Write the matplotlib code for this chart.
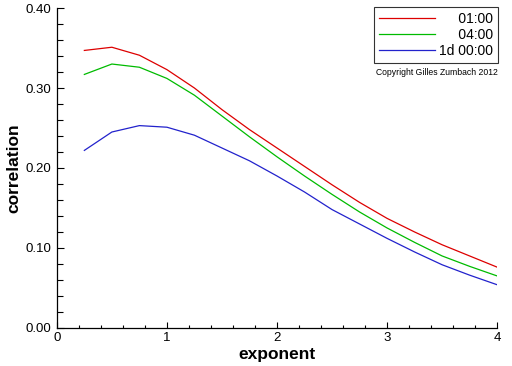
import matplotlib.pyplot as plt
from matplotlib.ticker import MultipleLocator, FormatStrFormatter

plt.rcParams['font.family'] = ['Liberation Sans', 'DejaVu Sans']

# --- data ---
exponent = [0.25, 0.5, 0.75, 1.0, 1.25, 1.5, 1.75, 2.0,
            2.25, 2.5, 2.75, 3.0, 3.25, 3.5, 3.75, 4.0]
corr_0100 = [0.347, 0.351, 0.341, 0.323, 0.300, 0.273, 0.248, 0.225,
             0.202, 0.179, 0.157, 0.137, 0.120, 0.104, 0.090, 0.076]
corr_0400 = [0.317, 0.330, 0.326, 0.312, 0.291, 0.265, 0.239, 0.214,
             0.190, 0.167, 0.145, 0.125, 0.107, 0.090, 0.077, 0.065]
corr_1d = [0.222, 0.245, 0.253, 0.251, 0.241, 0.225, 0.209, 0.190,
           0.170, 0.148, 0.130, 0.112, 0.095, 0.079, 0.066, 0.054]
labels = ['     01:00', '     04:00', '1d 00:00']
colors = ['#dd0000', '#00bb00', '#2222cc']

fig = plt.figure(figsize=(5.12, 3.66), dpi=100)
ax = fig.add_axes([0.111, 0.104, 0.86, 0.874])

for y, lab, c in zip([corr_0100, corr_0400, corr_1d], labels, colors):
    ax.plot(exponent, y, color=c, linewidth=0.9, label=lab)

ax.set_xlim(0, 4)
ax.set_ylim(0, 0.40)
ax.xaxis.set_major_locator(MultipleLocator(1))
ax.xaxis.set_minor_locator(MultipleLocator(0.2))
ax.yaxis.set_major_locator(MultipleLocator(0.1))
ax.yaxis.set_minor_locator(MultipleLocator(0.02))
ax.yaxis.set_major_formatter(FormatStrFormatter('%.2f'))

ax.spines['top'].set_visible(False)
ax.spines['right'].set_visible(False)
for s in ('left', 'bottom'):
    ax.spines[s].set_linewidth(0.9)

ax.tick_params(axis='both', which='both', direction='in', width=0.8, labelsize=9.5)
ax.tick_params(axis='y', which='major', length=5, pad=4)
ax.tick_params(axis='y', which='minor', length=4.3)
ax.tick_params(axis='x', which='major', length=4.5, pad=3)
ax.tick_params(axis='x', which='minor', length=2.5)

ax.set_xlabel('exponent', fontsize=12.5, fontweight='bold', labelpad=2)
ax.set_ylabel('correlation', fontsize=12.5, fontweight='bold', labelpad=3)

leg = ax.legend(loc='upper right', bbox_to_anchor=(0.9727, 0.981),
                bbox_transform=fig.transFigure, fontsize=10,
                frameon=True, fancybox=False, handlelength=4.0,
                handletextpad=0.3, labelspacing=0.15, borderpad=0.35,
                borderaxespad=0)
leg.get_frame().set_edgecolor('black')
leg.get_frame().set_linewidth(0.8)

fig.text(0.854, 0.803, 'Copyright Gilles Zumbach 2012', fontsize=6.2,
         ha='center', va='center')

fig.savefig('out.png', dpi=100)
